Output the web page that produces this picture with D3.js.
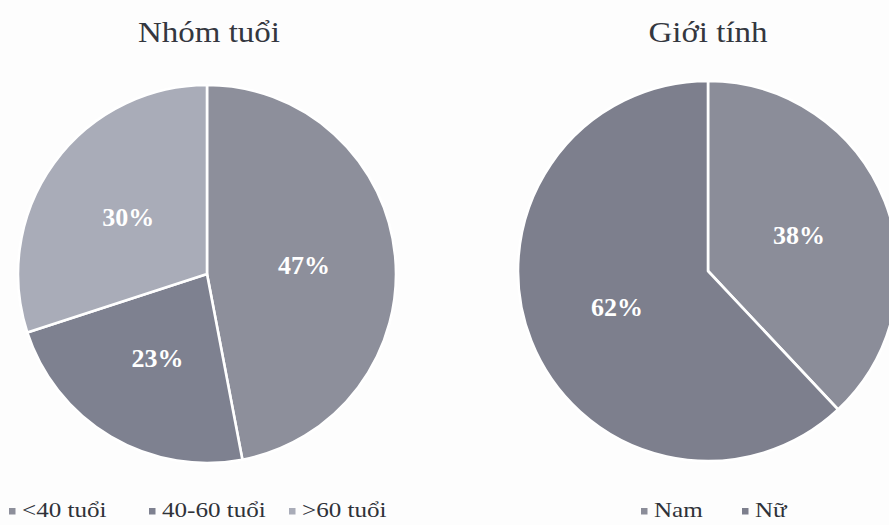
<!DOCTYPE html>
<html>
<head>
<meta charset="utf-8">
<script src="https://cdn.jsdelivr.net/npm/d3@7"></script>
<style>
  html, body { margin: 0; padding: 0; background: #fdfdfd; }
  svg { display: block; }
</style>
</head>
<body>
<svg id="chart" width="889" height="525"></svg>
<script>
// Age group breakdown
const ageTitle = "Nhóm tuổi";
const ageCategories = ["<40 tuổi", "40-60 tuổi", ">60 tuổi"];
const ageValues = [47, 23, 30];
const ageColors = ["#8d8f9b", "#7e8190", "#a9acb8"];

// Gender breakdown
const genderTitle = "Giới tính";
const genderCategories = ["Nam", "Nữ"];
const genderValues = [38, 62];
const genderColors = ["#8b8d99", "#7d7f8d"];

const svg = d3.select("#chart");
const serif = "'Liberation Serif', 'DejaVu Serif', serif";
const stretch = 1.1;        // slightly wide set type for titles
const legendStretch = 1.14; // and for legend entries

function drawPie(cfg) {
  const g = svg.append("g");
  const color = d3.scaleOrdinal().domain(cfg.categories).range(cfg.colors);
  const pie = d3.pie().sort(null).value(d => d.value);
  const arcs = pie(cfg.categories.map((c, i) => ({ category: c, value: cfg.values[i] })));
  const arc = d3.arc().innerRadius(0).outerRadius(cfg.r);
  const labelArc = d3.arc().innerRadius(cfg.r * 0.515).outerRadius(cfg.r * 0.515);

  const pg = g.append("g").attr("transform", `translate(${cfg.cx},${cfg.cy})`);
  pg.selectAll("path.slice")
    .data(arcs)
    .join("path")
    .attr("class", "slice")
    .attr("d", arc)
    .attr("fill", d => color(d.data.category))
    .attr("stroke", "#ffffff")
    .attr("stroke-width", 2.6)
    .attr("stroke-linejoin", "round");

  pg.selectAll("text.pct")
    .data(arcs)
    .join("text")
    .attr("class", "pct")
    .attr("transform", d => {
      const [x, y] = labelArc.centroid(d);
      return `translate(${x},${y})`;
    })
    .attr("text-anchor", "middle")
    .attr("dy", "0.35em")
    .attr("font-family", serif)
    .attr("font-weight", "bold")
    .attr("font-size", 26)
    .attr("fill", "#ffffff")
    .text(d => d.data.value + "%");

  // Title
  g.append("text")
    .attr("transform", `translate(${cfg.titleX},${cfg.titleY}) scale(${stretch},1)`)
    .attr("text-anchor", "middle")
    .attr("font-family", serif)
    .attr("font-size", 30)
    .attr("fill", "#34373f")
    .text(cfg.title);

  // Legend: equal-width entry slots
  const lg = g.append("g").attr("transform", `translate(${cfg.legendX},${cfg.legendY})`);
  const slot = d3.scaleBand()
    .domain(cfg.categories)
    .range([0, cfg.legendSlot * cfg.categories.length])
    .paddingInner(0).paddingOuter(0);
  const item = lg.selectAll("g.item")
    .data(cfg.categories)
    .join("g")
    .attr("class", "item")
    .attr("transform", c => `translate(${slot(c)},0)`);
  item.append("rect")
    .attr("x", 0)
    .attr("y", -9)
    .attr("width", 6.5)
    .attr("height", 6.5)
    .attr("fill", c => color(c));
  item.append("text")
    .attr("transform", `translate(13,0) scale(${legendStretch},1)`)
    .attr("font-family", serif)
    .attr("font-size", 22)
    .attr("fill", "#2f3239")
    .text(c => c);
}

drawPie({
  title: ageTitle, categories: ageCategories, values: ageValues, colors: ageColors,
  cx: 207, cy: 274, r: 189, titleX: 209, titleY: 42,
  legendX: 9, legendY: 517, legendSlot: 140
});

drawPie({
  title: genderTitle, categories: genderCategories, values: genderValues, colors: genderColors,
  cx: 708, cy: 271, r: 190, titleX: 708, titleY: 42,
  legendX: 641, legendY: 517, legendSlot: 101
});
</script>
</body>
</html>
